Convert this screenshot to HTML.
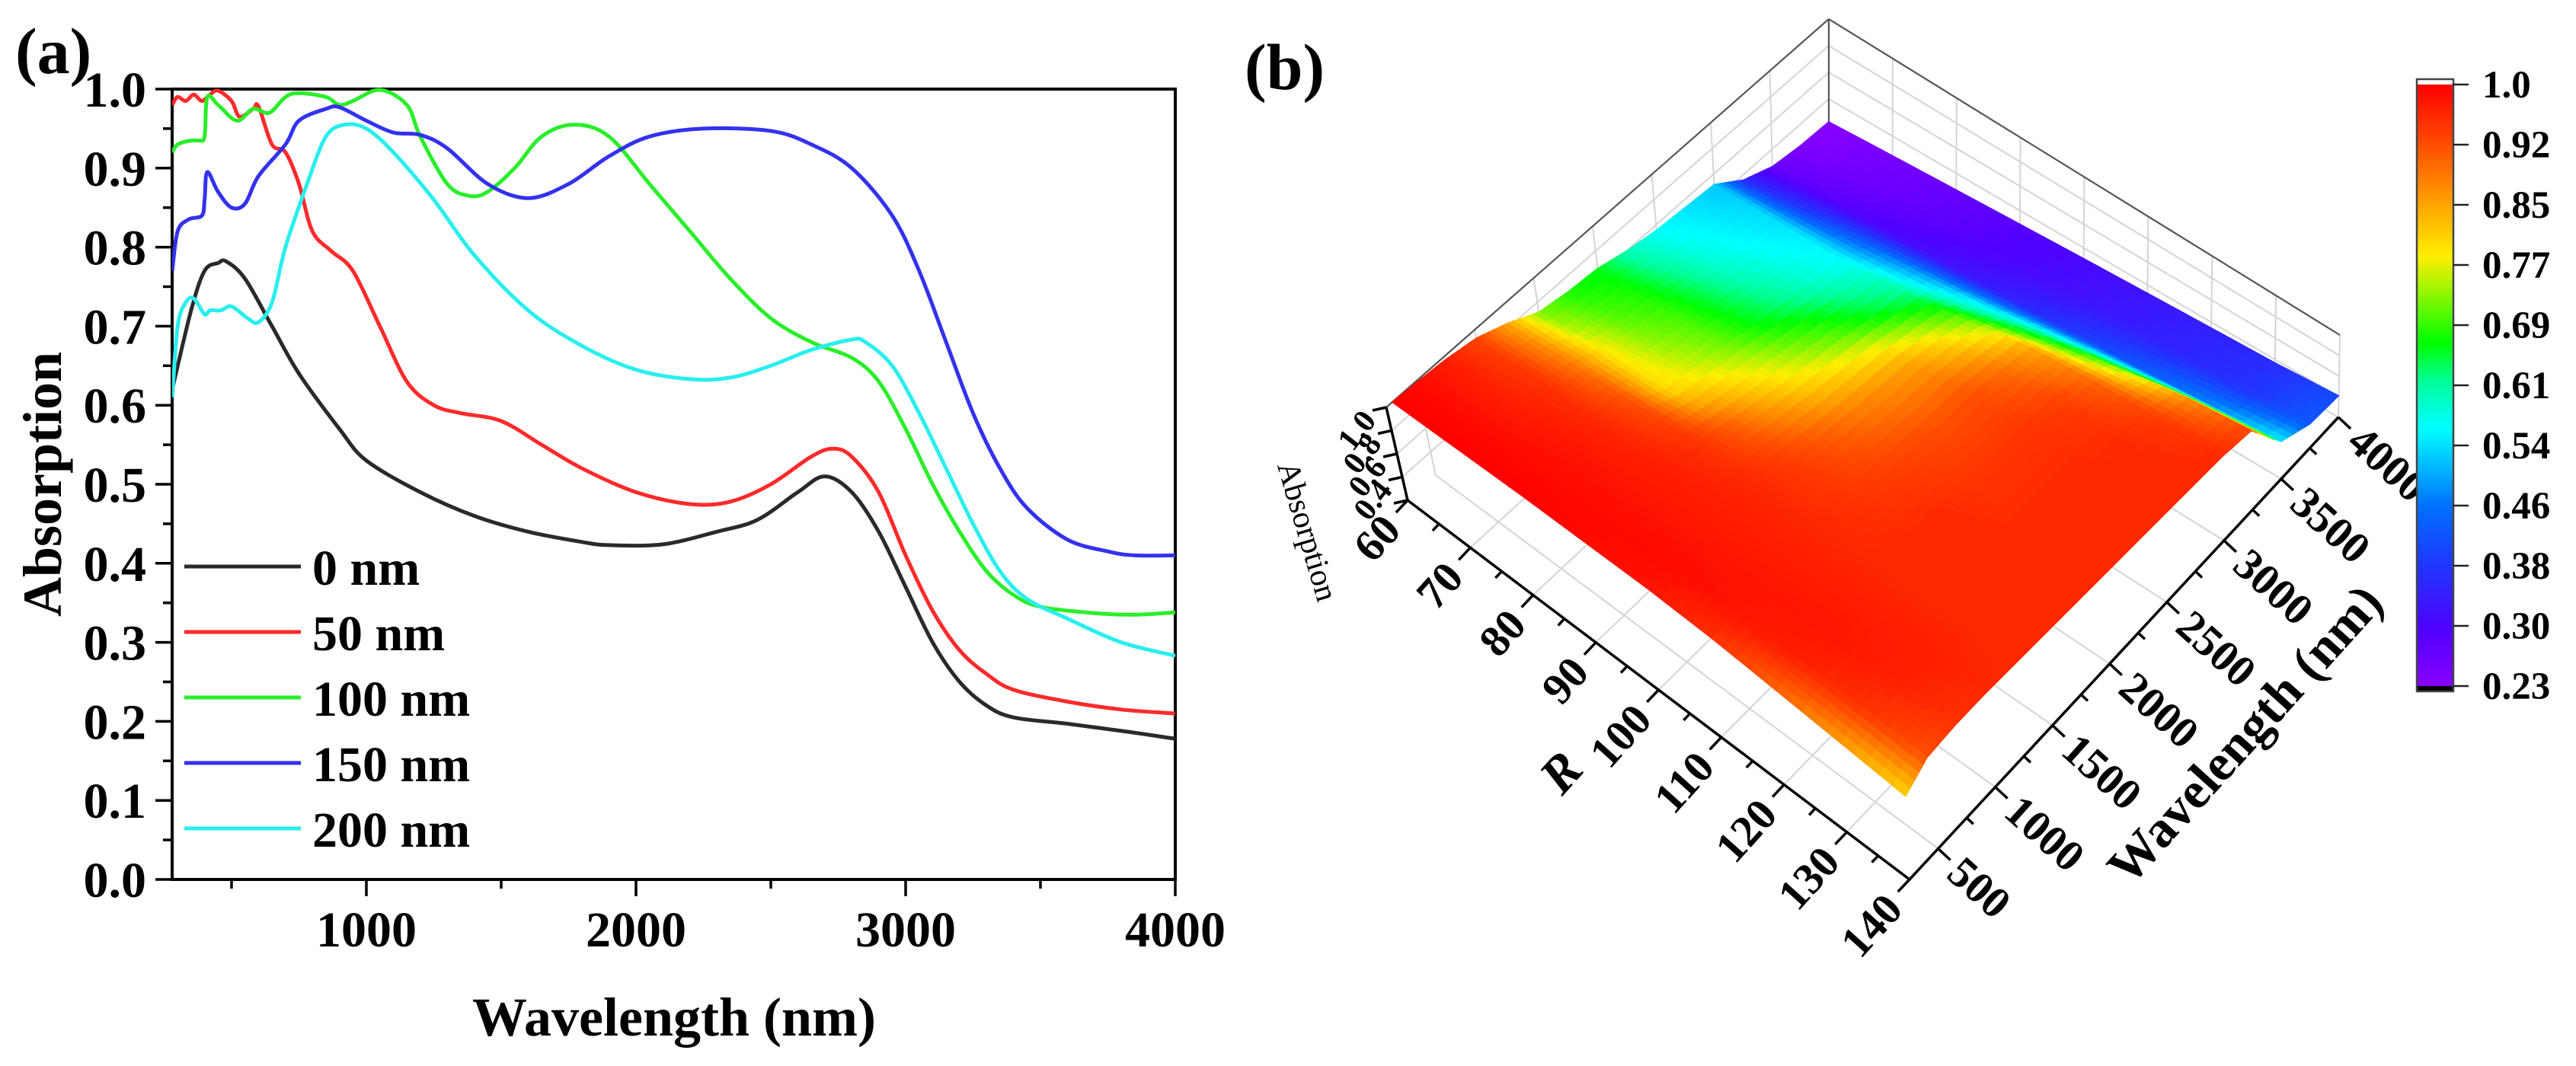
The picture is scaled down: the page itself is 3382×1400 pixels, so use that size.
<!DOCTYPE html>
<html><head><meta charset="utf-8"><title>Absorption spectra</title>
<style>
html,body{margin:0;padding:0;background:#fff;}
svg{display:block;font-family:"Liberation Serif","DejaVu Serif",serif;}
</style></head>
<body>
<svg id="fig" width="3382" height="1400" viewBox="0 0 3382 1400" xmlns="http://www.w3.org/2000/svg">
<defs>
<clipPath id="plotclip"><rect x="226" y="112" width="1318" height="1044"/></clipPath>
<linearGradient id="cbgrad" x1="0" y1="1" x2="0" y2="0"></linearGradient>
</defs>
<g id="panelA"></g>
<g id="panelB"></g>
</svg>
<script>
// ---------- Panel (a) data ----------
const wl_0nm=[280,350,400,450,480,550,650,750,900,1000,1200,1400,1600,1800,1900,2100,2300,2450,2600,2700,2800,2900,3000,3100,3200,3300,3400,3600,3800,4000];
const abs_0nm=[0.62,0.72,0.77,0.78,0.782,0.76,0.70,0.64,0.57,0.53,0.49,0.46,0.44,0.427,0.423,0.424,0.44,0.455,0.49,0.51,0.49,0.44,0.37,0.30,0.25,0.22,0.205,0.197,0.188,0.178];
const wl_50nm=[280,300,330,360,390,420,450,500,530,580,600,650,700,750,800,870,950,1050,1150,1250,1350,1500,1650,1800,2000,2200,2350,2500,2650,2730,2800,2900,3000,3100,3200,3300,3400,3600,3800,4000];
const abs_50nm=[0.98,0.99,0.985,0.993,0.985,0.993,0.998,0.985,0.965,0.975,0.978,0.93,0.92,0.88,0.82,0.795,0.77,0.70,0.63,0.60,0.59,0.58,0.55,0.52,0.49,0.475,0.478,0.50,0.535,0.545,0.535,0.49,0.41,0.34,0.29,0.26,0.24,0.225,0.215,0.21];
const wl_100nm=[280,300,350,380,400,410,450,520,580,640,700,750,850,900,950,1050,1150,1200,1300,1380,1450,1550,1650,1770,1900,2050,2200,2350,2500,2650,2800,2900,3000,3100,3200,3300,3400,3500,3700,3850,4000];
const abs_100nm=[0.92,0.93,0.935,0.935,0.94,0.99,0.98,0.96,0.975,0.97,0.99,0.995,0.99,0.98,0.985,0.999,0.98,0.94,0.88,0.865,0.87,0.90,0.94,0.955,0.94,0.88,0.82,0.76,0.71,0.68,0.66,0.63,0.57,0.50,0.44,0.39,0.36,0.345,0.337,0.335,0.338];
const wl_150nm=[280,300,340,390,400,410,450,500,550,600,700,750,850,900,1000,1100,1200,1300,1450,1600,1750,1900,2050,2250,2500,2650,2800,2950,3050,3150,3250,3350,3450,3600,3750,3850,4000];
const abs_150nm=[0.77,0.82,0.835,0.84,0.86,0.895,0.87,0.85,0.855,0.89,0.93,0.96,0.975,0.977,0.96,0.945,0.942,0.925,0.88,0.862,0.88,0.915,0.94,0.95,0.947,0.93,0.90,0.84,0.77,0.68,0.59,0.52,0.47,0.43,0.415,0.41,0.41];
const wl_200nm=[280,300,330,360,400,420,460,500,560,600,650,700,780,850,920,1000,1100,1250,1400,1600,1800,2000,2200,2350,2500,2650,2800,2850,2950,3050,3150,3250,3350,3450,3600,3800,4000];
const abs_200nm=[0.61,0.70,0.73,0.735,0.715,0.72,0.72,0.725,0.71,0.705,0.73,0.80,0.88,0.94,0.955,0.95,0.92,0.86,0.79,0.72,0.675,0.645,0.633,0.635,0.65,0.67,0.683,0.68,0.65,0.59,0.52,0.45,0.39,0.355,0.33,0.30,0.283];
const seriesNames=["0 nm","50 nm","100 nm","150 nm","200 nm"];
const yTickLabels=["0.0","0.1","0.2","0.3","0.4","0.5","0.6","0.7","0.8","0.9","1.0"];
const xTickLabels=["1000","2000","3000","4000"];

// ---------- Panel (b) data ----------
const rValues=[60,70,80,90,100,110,120,130,140];
const surfWavelengths=[300,500,750,1000,1250,1500,1750,2000,2250,2500,2750,3000,3250,3500,3750,4000];
const absR60 =[1.00,0.99,0.97,0.93,0.84,0.72,0.68,0.66,0.60,0.56,0.54,0.52,0.36,0.27,0.24,0.23];
const absR70 =[1.00,0.99,0.97,0.95,0.88,0.78,0.72,0.69,0.64,0.59,0.56,0.54,0.40,0.29,0.26,0.25];
const absR80 =[1.00,0.99,0.98,0.96,0.92,0.80,0.76,0.72,0.67,0.63,0.59,0.56,0.45,0.31,0.28,0.27];
const absR90 =[0.99,0.99,0.98,0.97,0.95,0.90,0.84,0.79,0.75,0.71,0.66,0.62,0.50,0.33,0.30,0.29];
const absR100=[0.98,0.99,0.98,0.97,0.96,0.94,0.91,0.88,0.86,0.84,0.79,0.72,0.56,0.36,0.32,0.31];
const absR110=[0.95,0.98,0.98,0.97,0.96,0.95,0.94,0.93,0.92,0.92,0.89,0.84,0.64,0.40,0.34,0.33];
const absR120=[0.90,0.97,0.98,0.97,0.96,0.96,0.96,0.95,0.95,0.95,0.94,0.90,0.74,0.44,0.36,0.35];
const absR130=[0.85,0.95,0.97,0.97,0.96,0.96,0.96,0.96,0.96,0.96,0.96,0.94,0.86,0.49,0.38,0.37];
const absR140=[0.80,0.92,0.95,0.96,0.96,0.96,0.96,0.96,0.96,0.96,0.96,0.96,0.93,0.55,0.43,0.41];
const cbTickLabels=["1.0","0.92","0.85","0.77","0.69","0.61","0.54","0.46","0.38","0.30","0.23"];
const cmapValues=[0.23,0.30,0.38,0.46,0.56,0.62,0.67,0.78,0.85,0.92,1.0];
const cmapColors=["#8800ff","#5000ff","#2233ff","#0070ff","#00ffff","#00ff99","#00ff00","#ffee00","#ffa000","#ff5000","#ff0000"];
const rTickLabels=["60","70","80","90","100","110","120","130","140"];
const wlTickLabels=["500","1000","1500","2000","2500","3000","3500","4000"];
const zTickLabels=["0.4","0.6","0.8","1.0"];

const NS="http://www.w3.org/2000/svg";
function mk(tag,parent,attrs){const e=document.createElementNS(NS,tag);for(const k in attrs)e.setAttribute(k,attrs[k]);parent.appendChild(e);return e;}

// ---------- Panel (a) ----------
const gA=document.getElementById('panelA');
const xA=l=>481+(l-1000)*0.354;
const yA=a=>1155-a*1038;
function smoothPath(pts){let d="M"+pts[0][0].toFixed(1)+","+pts[0][1].toFixed(1);const n=pts.length;
 for(let i=0;i<n-1;i++){const p0=pts[Math.max(i-1,0)],p1=pts[i],p2=pts[i+1],p3=pts[Math.min(i+2,n-1)];
  const c1=[p1[0]+(p2[0]-p0[0])/6,p1[1]+(p2[1]-p0[1])/6],c2=[p2[0]-(p3[0]-p1[0])/6,p2[1]-(p3[1]-p1[1])/6];
  d+=" C"+c1[0].toFixed(1)+","+c1[1].toFixed(1)+" "+c2[0].toFixed(1)+","+c2[1].toFixed(1)+" "+p2[0].toFixed(1)+","+p2[1].toFixed(1);}
 return d;}

const frame=mk('rect',gA,{x:226,y:117,width:1317,height:1038,fill:'none',stroke:'#000','stroke-width':4});


for(let i=0;i<=20;i++){const v=i*0.05,y=yA(v),major=i%2===0;
 const t=mk('line',gA,{x1:226,x2:major?204:214,y1:y,y2:y,stroke:'#000','stroke-width':3.5});
 
 }
yTickLabels.forEach((s,i)=>{const t=mk('text',gA,{x:192,y:yA(i*0.1)+23,'text-anchor':'end','font-size':66,'font-weight':'bold'});t.textContent=s;
 
 });
for(let l=500;l<=4000;l+=500){const x=xA(l),major=l%1000===0;
 const t=mk('line',gA,{x1:x,x2:x,y1:1155,y2:major?1177:1167,stroke:'#000','stroke-width':3.5});
 
 }
xTickLabels.forEach(s=>{const t=mk('text',gA,{x:xA(+s),y:1243,'text-anchor':'middle','font-size':66,'font-weight':'bold'});t.textContent=s;
 
 });
const xt=mk('text',gA,{x:885,y:1360,'text-anchor':'middle','font-size':72,'font-weight':'bold'});xt.textContent="Wavelength (nm)";


const yt=mk('text',gA,{x:0,y:0,'text-anchor':'middle','font-size':72,'font-weight':'bold',transform:'translate(80,636) rotate(-90)'});yt.textContent="Absorption";


const la=mk('text',gA,{x:20,y:96,'font-size':86,'font-weight':'bold'});la.textContent="(a)";



const seriesW=[wl_0nm,wl_50nm,wl_100nm,wl_150nm,wl_200nm];
const seriesA=[abs_0nm,abs_50nm,abs_100nm,abs_150nm,abs_200nm];
const seriesColors=["#2a2a2a","#ff2a2a","#2aee2a","#3232ee","#2aeeee"];
const lineG=mk('g',gA,{'clip-path':'url(#plotclip)'});


seriesW.forEach((w,k)=>{const pts=w.map((l,i)=>[xA(l),yA(seriesA[k][i])]);
 const p=mk('path',lineG,{d:smoothPath(pts),fill:'none',stroke:seriesColors[k],'stroke-width':5,'stroke-linejoin':'round'});
 
 });
seriesNames.forEach((s,k)=>{const y=744+k*86;
 const l=mk('line',gA,{x1:242,x2:395,y1:y,y2:y,stroke:seriesColors[k],'stroke-width':5});
 
 
 const t=mk('text',gA,{x:410,y:y+24,'font-size':66,'font-weight':'bold'});t.textContent=s;
 
 });

// ---------- Panel (b) ----------
const gB=document.getElementById('panelB');
const BOT={L:[1848,657],B:[2507,1155],R:[3070,548],T:[2401,165]};
const TOP={L:[1820,535],B:[2490,1020],R:[3072,440],T:[2401,25]};
function bil(c,u,v,k){return c.L[k]*(1-u)*(1-v)+c.B[k]*u*(1-v)+c.R[k]*u*v+c.T[k]*(1-u)*v;}
function P(R,l,z){const u=(R-60)/80,v=(l-250)/3750,w=(z-0.2)/0.8;
 const bx=bil(BOT,u,v,0),by=bil(BOT,u,v,1),tx=bil(TOP,u,v,0),ty=bil(TOP,u,v,1);
 return [bx+(tx-bx)*w,by+(ty-by)*w];}
function hex(c){return [parseInt(c.slice(1,3),16),parseInt(c.slice(3,5),16),parseInt(c.slice(5,7),16)];}
function cmap(z){if(z<=cmapValues[0])return cmapColors[0];const n=cmapValues.length;if(z>=cmapValues[n-1])return cmapColors[n-1];
 for(let i=0;i<n-1;i++){if(z<=cmapValues[i+1]){const t=(z-cmapValues[i])/(cmapValues[i+1]-cmapValues[i]);const a=hex(cmapColors[i]),b=hex(cmapColors[i+1]);
  return "rgb("+a.map((x,j)=>Math.round(x+(b[j]-x)*t)).join(",")+")";}}}
function line(parent,p,q,attrs,name){const e=mk('line',parent,Object.assign({x1:p[0].toFixed(1),y1:p[1].toFixed(1),x2:q[0].toFixed(1),y2:q[1].toFixed(1)},attrs));
 
 return e;}

const grid=mk('g',gB,{});


const ga={stroke:'#d4d4d4','stroke-width':2};
for(let l=500;l<=4000;l+=500){line(grid,P(60,l,0.2),P(60,l,1.0),ga,'gridline');line(grid,P(60,l,0.2),P(140,l,0.2),ga,'gridline');}
for(let R=70;R<=140;R+=10){line(grid,P(R,4000,0.2),P(R,4000,1.0),ga,'gridline');line(grid,P(R,250,0.2),P(R,4000,0.2),ga,'gridline');}
[0.4,0.6,0.8].forEach(z=>{line(grid,P(60,250,z),P(60,4000,z),ga,'gridline');line(grid,P(60,4000,z),P(140,4000,z),ga,'gridline');});
const ea={stroke:'#555','stroke-width':2.2};
line(grid,P(60,250,1),P(60,4000,1),ea,'box-edge');
line(grid,P(60,4000,1),P(140,4000,1),ea,'box-edge');
line(grid,P(60,4000,0.2),P(60,4000,1),ea,'box-edge');

const surfRows=[absR60,absR70,absR80,absR90,absR100,absR110,absR120,absR130,absR140];
const surf=mk('g',gB,{});


const SUB=5,cells=[];
for(let i=0;i<rValues.length-1;i++)for(let j=0;j<surfWavelengths.length-1;j++)cells.push([i,j]);
cells.sort((a,b)=>(a[0]-a[1]*0.53)-(b[0]-b[1]*0.53));
cells.forEach(([i,j])=>{const R0=rValues[i],R1=rValues[i+1],l0=surfWavelengths[j],l1=surfWavelengths[j+1];
 const z00=surfRows[i][j],z01=surfRows[i][j+1],z10=surfRows[i+1][j],z11=surfRows[i+1][j+1];
 const zf=(a,b)=>z00*(1-a)*(1-b)+z10*a*(1-b)+z11*a*b+z01*(1-a)*b;
 for(let a=0;a<SUB;a++)for(let b=SUB-1;b>=0;b--){const a0=a/SUB,a1=(a+1)/SUB,b0=b/SUB,b1=(b+1)/SUB;
  const pt=(aa,bb)=>P(R0+(R1-R0)*aa,l0+(l1-l0)*bb,zf(aa,bb));
  const pts=[pt(a0,b0),pt(a1,b0),pt(a1,b1),pt(a0,b1)];
  const c=cmap(zf((a0+a1)/2,(b0+b1)/2));
  const poly=mk('polygon',surf,{points:pts.map(p=>p[0].toFixed(1)+","+p[1].toFixed(1)).join(" "),fill:c,stroke:c,'stroke-width':1.2});
  
  }});

const axG=mk('g',gB,{});


const aa={stroke:'#000','stroke-width':3.5};
line(axG,P(60,250,0.2),P(60,250,1.0),aa,'z-axis-line');
line(axG,P(60,250,0.2),P(140,250,0.2),aa,'r-axis-line');
line(axG,P(140,250,0.2),P(140,4000,0.2),aa,'wavelength-axis-line');
for(let z=0.2;z<=1.001;z+=0.2){const p=P(60,250,z);line(axG,p,[p[0]-18,p[1]+4],aa,'z-tick');}
zTickLabels.forEach(s=>{const p=P(60,250,+s);const t=mk('text',axG,{x:0,y:0,'text-anchor':'end','font-size':42,'font-weight':'bold','dominant-baseline':'central',transform:`translate(${(p[0]-22).toFixed(1)},${(p[1]+10).toFixed(1)}) rotate(-52)`});t.textContent=s;
 
 });
for(let R=60;R<=140;R+=5){const p=P(R,250,0.2),L=R%10===0?22:12;line(axG,p,[p[0]-0.69*L,p[1]+0.73*L],aa,'r-tick');}
rTickLabels.forEach(s=>{const p=P(+s,250,0.2);const t=mk('text',axG,{x:0,y:0,'text-anchor':'end','font-size':58,'font-weight':'bold','dominant-baseline':'central',transform:`translate(${(p[0]-21).toFixed(1)},${(p[1]+28).toFixed(1)}) rotate(-48)`});t.textContent=s;
 
 });
for(let l=500;l<=4000;l+=250){const p=P(140,l,0.2),L=l%500===0?22:12;line(axG,p,[p[0]+0.73*L,p[1]+0.68*L],aa,'wavelength-tick');}
wlTickLabels.forEach(s=>{const p=P(140,+s,0.2);const t=mk('text',axG,{x:0,y:0,'text-anchor':'start','font-size':58,'font-weight':'bold','dominant-baseline':'central',transform:`translate(${(p[0]+22).toFixed(1)},${(p[1]+22).toFixed(1)}) rotate(42)`});t.textContent=s;
 
 });
const zt=mk('text',axG,{x:0,y:0,'text-anchor':'middle','font-size':42,'dominant-baseline':'central',transform:'translate(1716,698) rotate(73.5)'});zt.textContent="Absorption";


const rt=mk('text',axG,{x:0,y:0,'text-anchor':'middle','font-size':68,'font-weight':'bold','font-style':'italic','dominant-baseline':'central',transform:'translate(2049,1014) rotate(-48)'});rt.textContent="R";


const wt=mk('text',axG,{x:0,y:0,'text-anchor':'middle','font-size':68,'font-weight':'bold','dominant-baseline':'central',transform:'translate(2947,964) rotate(-48)'});wt.textContent="Wavelength (nm)";


const lb=mk('text',gB,{x:1634,y:117,'font-size':86,'font-weight':'bold'});lb.textContent="(b)";



const grad=document.getElementById('cbgrad');
cmapValues.forEach((v,i)=>{mk('stop',grad,{offset:((v-0.23)/0.77).toFixed(4),'stop-color':cmapColors[i]});});
const cbG=mk('g',gB,{});


const cbTop=111,cbBot=901;
mk('rect',cbG,{x:3173,y:104,width:48,height:804,fill:'#fff'});
const cbr=mk('rect',cbG,{x:3173,y:cbTop,width:48,height:cbBot-cbTop,fill:'url(#cbgrad)'});


mk('rect',cbG,{x:3173,y:cbBot,width:48,height:7,fill:'#000'});
mk('rect',cbG,{x:3173,y:104,width:48,height:804,fill:'none',stroke:'#444','stroke-width':2.5});
cbTickLabels.forEach((s,i)=>{const y=cbTop+i*(cbBot-cbTop)/(cbTickLabels.length-1);
 const tk=mk('line',cbG,{x1:3221,x2:3241,y1:y,y2:y,stroke:'#222','stroke-width':2.5});
 
 
 const t=mk('text',cbG,{x:3259,y:y+17,'font-size':51,'font-weight':'bold'});t.textContent=s;
 
 });
</script>
</body></html>
